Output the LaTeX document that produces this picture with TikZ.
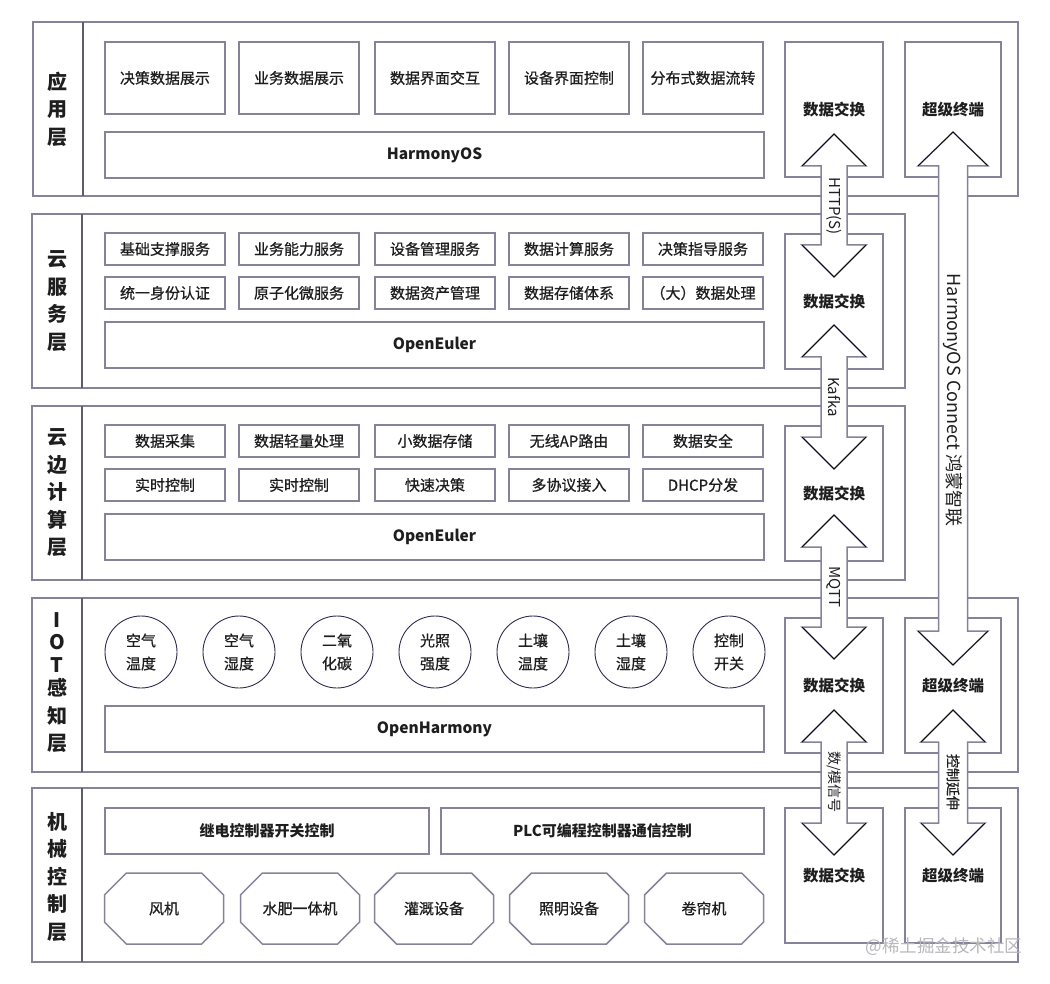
\documentclass[tikz,border=0pt]{standalone}
\usepackage{fontspec}
\setmainfont{Noto Sans CJK SC}
\newfontfamily\medfont{Noto Sans CJK SC}[FakeBold=0.7]
\usetikzlibrary{shapes.misc}
\definecolor{bd}{HTML}{85839A}
\definecolor{dv}{HTML}{5E5C72}
\definecolor{cir}{HTML}{2E2E52}
\definecolor{tx}{HTML}{1E1E1E}
\definecolor{wm}{HTML}{B8B8BC}
\newcommand\DArrow[7]{%
  \coordinate (#1-t) at (#2,#3);
  \coordinate (#1-b) at (#2,#4);
  \path[arrowbody] (#1-t) -- ({#2+#6},{#3+#7}) -- ({#2+#5},{#3+#7}) -- ({#2+#5},{#4-#7}) -- ({#2+#6},{#4-#7}) -- (#1-b) -- ({#2-#6},{#4-#7}) -- ({#2-#5},{#4-#7}) -- ({#2-#5},{#3+#7}) -- ({#2-#6},{#3+#7}) -- cycle;
  \draw[arrowtip] ({#2-#6},{#3+#7}) -- (#1-t) -- ({#2+#6},{#3+#7});
  \draw[arrowtip] ({#2-#6},{#4-#7}) -- (#1-b) -- ({#2+#6},{#4-#7});
}
\begin{document}
\begin{tikzpicture}[x=1pt,y=-1pt,
  layer/.style={draw=bd, line width=1.8pt, rectangle, inner sep=0pt},
  divline/.style={draw=dv, line width=1.6pt},
  lname/.style={align=center, text=tx, font=\fontsize{20}{27.5}\selectfont\bfseries},
  box/.style={draw=bd, line width=1.5pt, rectangle, inner sep=0pt, text=tx, font=\medfont\fontsize{15}{18}\selectfont},
  bar/.style={box, minimum width=659pt, minimum height=46pt, font=\fontsize{15.5}{18}\selectfont\bfseries},
  topbox/.style={box, minimum width=120pt, minimum height=72pt},
  rowbox/.style={box, minimum width=120pt, minimum height=32pt},
  sens/.style={circle, draw=cir, line width=0.9pt, minimum size=72pt, inner sep=0pt, align=center, text=tx, font=\medfont\fontsize{15}{23}\selectfont},
  dev/.style={chamfered rectangle, chamfered rectangle xsep=16pt, chamfered rectangle ysep=15pt, draw=bd, line width=1.5pt, minimum width=119pt, minimum height=71pt, inner sep=0pt, text=tx, font=\medfont\fontsize{15}{18}\selectfont},
  ctl/.style={box, minimum height=46pt, font=\fontsize{15}{18}\selectfont\bfseries},
  xbox/.style={box, minimum height=135pt, font=\fontsize{15.5}{18}\selectfont\bfseries},
  arrowbody/.style={fill=white, draw=bd, line width=1.5pt, line join=miter},
  arrowtip/.style={draw=black, line width=0.7pt, line join=miter},
  alabel/.style={rotate=-90, text=tx, inner sep=0pt, font=\fontsize{15}{18}\selectfont},
]
\useasboundingbox (0,0) rectangle (1050,984);
\fill[white] (0,0) rectangle (1050,984);

% ---------- layers ----------
\node[layer, minimum width=985pt, minimum height=174pt] (L1) at (525.5,109) {};
\node[layer, minimum width=873pt, minimum height=174pt] (L2) at (468.5,301) {};
\node[layer, minimum width=873pt, minimum height=174pt] (L3) at (468.5,493) {};
\node[layer, minimum width=986pt, minimum height=174pt] (L4) at (525,685) {};
\node[layer, minimum width=986pt, minimum height=174pt] (L5) at (525,875) {};
\draw[divline] (83,22) -- (83,196);
\draw[divline] (82,214) -- (82,388);
\draw[divline] (82,406) -- (82,580);
\draw[divline] (82,598) -- (82,772);
\draw[divline] (82,788) -- (82,962);
\node[lname] (N1) at (57,109) {应\\用\\层};
\node[lname] (N2) at (57,301) {云\\服\\务\\层};
\node[lname] (N3) at (57,493) {云\\边\\计\\算\\层};
\node[lname] (N4) at (57,683) {I\\[-5.5pt]O\\[-5pt]T\\[-4pt]感\\知\\层};
\node[lname] (N5) at (57,877) {机\\械\\控\\制\\层};

% ---------- application layer ----------
\node[topbox] (a1) at (165,78) {决策数据展示};
\node[topbox] (a2) at (299,78) {业务数据展示};
\node[topbox] (a3) at (435,78) {数据界面交互};
\node[topbox] (a4) at (569,78) {设备界面控制};
\node[topbox] (a5) at (703,78) {分布式数据流转};
\node[bar] (hos) at (434.5,155) {HarmonyOS};

% ---------- cloud service layer ----------
\node[rowbox] (c1) at (165,249) {基础支撑服务};
\node[rowbox] (c2) at (299,249) {业务能力服务};
\node[rowbox] (c3) at (435,249) {设备管理服务};
\node[rowbox] (c4) at (569,249) {数据计算服务};
\node[rowbox] (c5) at (703,249) {决策指导服务};
\node[rowbox] (c6) at (165,293) {统一身份认证};
\node[rowbox] (c7) at (299,293) {原子化微服务};
\node[rowbox] (c8) at (435,293) {数据资产管理};
\node[rowbox] (c9) at (569,293) {数据存储体系};
\node[rowbox] (c10) at (703,293) {（大）数据处理};
\node[bar] (oe1) at (434.5,345) {OpenEuler};

% ---------- edge computing layer ----------
\node[rowbox] (e1) at (165,441) {数据采集};
\node[rowbox] (e2) at (299,441) {数据轻量处理};
\node[rowbox] (e3) at (435,441) {小数据存储};
\node[rowbox] (e4) at (569,441) {无线AP路由};
\node[rowbox] (e5) at (703,441) {数据安全};
\node[rowbox] (e6) at (165,485) {实时控制};
\node[rowbox] (e7) at (299,485) {实时控制};
\node[rowbox] (e8) at (435,485) {快速决策};
\node[rowbox] (e9) at (569,485) {多协议接入};
\node[rowbox] (e10) at (703,485) {DHCP分发};
\node[bar] (oe2) at (434.5,537) {OpenEuler};

% ---------- IOT layer ----------
\node[sens] (s1) at (141,652) {空气\\温度};
\node[sens] (s2) at (239,652) {空气\\湿度};
\node[sens] (s3) at (337,652) {二氧\\化碳};
\node[sens] (s4) at (435,652) {光照\\强度};
\node[sens] (s5) at (533,652) {土壤\\温度};
\node[sens] (s6) at (631,652) {土壤\\湿度};
\node[sens] (s7) at (729,652) {控制\\开关};
\node[bar] (oh) at (434.5,729) {OpenHarmony};

% ---------- machine control layer ----------
\node[ctl, minimum width=324pt] (m1) at (267,831) {继电控制器开关控制};
\node[ctl, minimum width=323pt] (m2) at (602.5,831) {PLC可编程控制器通信控制};
\node[dev] (d1) at (164,908.5) {风机};
\node[dev] (d2) at (300,908.5) {水肥一体机};
\node[dev] (d3) at (434,908.5) {灌溉设备};
\node[dev] (d4) at (569,908.5) {照明设备};
\node[dev] (d5) at (704,908.5) {卷帘机};

% ---------- side columns ----------
\node[xbox, minimum width=98pt] (x1) at (834,109.5) {数据交换};
\node[xbox, minimum width=98pt] (x2) at (834,301.5) {数据交换};
\node[xbox, minimum width=98pt] (x3) at (834,493.5) {数据交换};
\node[xbox, minimum width=98pt] (x4) at (834,685.5) {数据交换};
\node[xbox, minimum width=98pt] (x5) at (834,875.5) {数据交换};
\node[xbox, minimum width=96pt] (t1) at (953,109.5) {超级终端};
\node[xbox, minimum width=96pt] (t4) at (953,685.5) {超级终端};
\node[xbox, minimum width=96pt] (t5) at (953,875.5) {超级终端};

% ---------- arrows ----------
\DArrow{ar1}{834}{134}{277}{13}{32}{32}
\DArrow{ar2}{834}{325}{469}{13}{32}{32}
\DArrow{ar3}{834}{515}{659}{13}{32}{32}
\DArrow{ar4}{834}{710}{855}{13}{32}{32}
\DArrow{ar5}{953}{132}{665}{14.5}{35}{34}
\DArrow{ar6}{953}{710}{855}{14.5}{32}{32}
\node[alabel] (l1) at (834,206) {HTTP(S)};
\node[alabel] (l2) at (834,397) {Kafka};
\node[alabel] (l3) at (834,587) {MQTT};
\node[alabel, font=\fontsize{14}{16}\selectfont] (l4) at (834,782) {数/模信号};
\node[alabel, font=\fontsize{18}{20}\selectfont] (l5) at (953,400) {HarmonyOS Connect 鸿蒙智联};
\node[alabel, font=\medfont\fontsize{14}{16}\selectfont] (l6) at (953,782) {控制延伸};

% ---------- watermark ----------
\node[text=wm, inner sep=0pt, font=\fontsize{17.5}{19}\selectfont] (wmk) at (944,947) {@稀土掘金技术社区};
\end{tikzpicture}
\end{document}
